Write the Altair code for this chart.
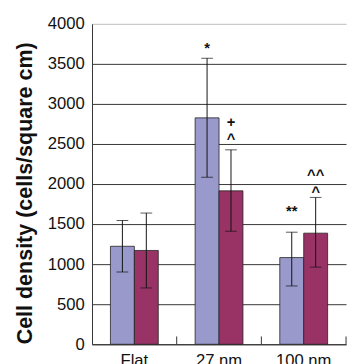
import altair as alt
import pandas as pd

categories = ["Flat", "27 nm", "100 nm"]
series = ["A", "B"]
values_a = [1223, 2826, 1082]
lo_a = [902, 2085, 728]
hi_a = [1545, 3570, 1399]
values_b = [1171, 1915, 1387]
lo_b = [703, 1411, 963]
hi_b = [1638, 2427, 1833]

ann_cat = ["27 nm", "27 nm", "27 nm", "100 nm", "100 nm", "100 nm"]
ann_series = ["A", "B", "B", "A", "B", "B"]
ann_text = ["*", "+", "^", "**", "^^", "^"]
ann_y = [3700, 2772, 2560, 1660, 2110, 1900]

rows = []
for i, c in enumerate(categories):
    rows.append({"cat": c, "s": "A", "v": values_a[i], "lo": lo_a[i], "hi": hi_a[i]})
    rows.append({"cat": c, "s": "B", "v": values_b[i], "lo": lo_b[i], "hi": hi_b[i]})
df = pd.DataFrame(rows)
ann = pd.DataFrame({"cat": ann_cat, "s": ann_series, "t": ann_text, "y": ann_y})
cats_df = pd.DataFrame({"cat": categories})

W, H = 260, 328
FONT = "Liberation Sans"

xenc = alt.X("cat:N", sort=categories, title=None,
             scale=alt.Scale(paddingInner=0, paddingOuter=0),
             axis=alt.Axis(labelAngle=0, labelFontSize=17, labelFont=FONT,
                           labelColor="#111", ticks=False, labelPadding=9,
                           domainColor="#333", labelBaseline="top"))
xoff = alt.XOffset("s:N", sort=series,
                   scale=alt.Scale(paddingInner=0, paddingOuter=0.77))
color = alt.Color("s:N", sort=series,
                  scale=alt.Scale(domain=series, range=["#9999cc", "#993366"]),
                  legend=None)

yscale = alt.Scale(domain=[0, 4000], nice=False)
yaxis = alt.Axis(values=list(range(0, 4001, 500)), format="d", labelFontSize=17, labelFont=FONT,
                 labelColor="#111", ticks=False, labelPadding=8,
                 domainColor="#333",
                 gridColor=alt.condition("datum.value == 4000", alt.value("#bbbbbb"), alt.value("#333333")),
                 title="Cell density (cells/square cm)", titleFontSize=22,
                 titleFont=FONT, titleFontWeight="bold", titleColor="#111",
                 titleAngle=-90, titleX=-62, titleY=173, titleAlign="center",
                 titleBaseline="alphabetic")

bars = alt.Chart(df).mark_bar(stroke="#222", strokeWidth=0.8).encode(
    x=xenc, xOffset=xoff, color=color,
    y=alt.Y("v:Q", scale=yscale, axis=yaxis))

err = alt.Chart(df).mark_rule(color="#111", strokeWidth=1).encode(
    x=alt.X("cat:N", sort=categories), xOffset=xoff,
    y=alt.Y("lo:Q"), y2="hi:Q")

caps_hi = alt.Chart(df).mark_tick(color="#111", thickness=1, size=12).encode(
    x=alt.X("cat:N", sort=categories), xOffset=xoff, y="hi:Q")
caps_lo = alt.Chart(df).mark_tick(color="#111", thickness=1, size=12).encode(
    x=alt.X("cat:N", sort=categories), xOffset=xoff, y="lo:Q")

ticks = alt.Chart(cats_df).mark_rule(color="#333", strokeWidth=1).encode(
    x=alt.X("cat:N", sort=categories, bandPosition=1),
    y=alt.value(H - 8), y2=alt.value(H))

text = alt.Chart(ann).mark_text(font=FONT, fontSize=15, fontWeight="bold",
                                color="#111", baseline="middle").encode(
    x=alt.X("cat:N", sort=categories), xOffset=xoff,
    y=alt.Y("y:Q"), text="t:N")

chart = alt.layer(bars, err, caps_hi, caps_lo, ticks, text).properties(
    width=W, height=H,
    autosize=alt.AutoSizeParams(type="none"),
    padding={"left": 86, "top": 12, "right": 2, "bottom": 16},
).configure_view(stroke=None).configure_axis(gridWidth=1)

chart.save("out.html", embed_options={"renderer": "svg", "actions": False})
